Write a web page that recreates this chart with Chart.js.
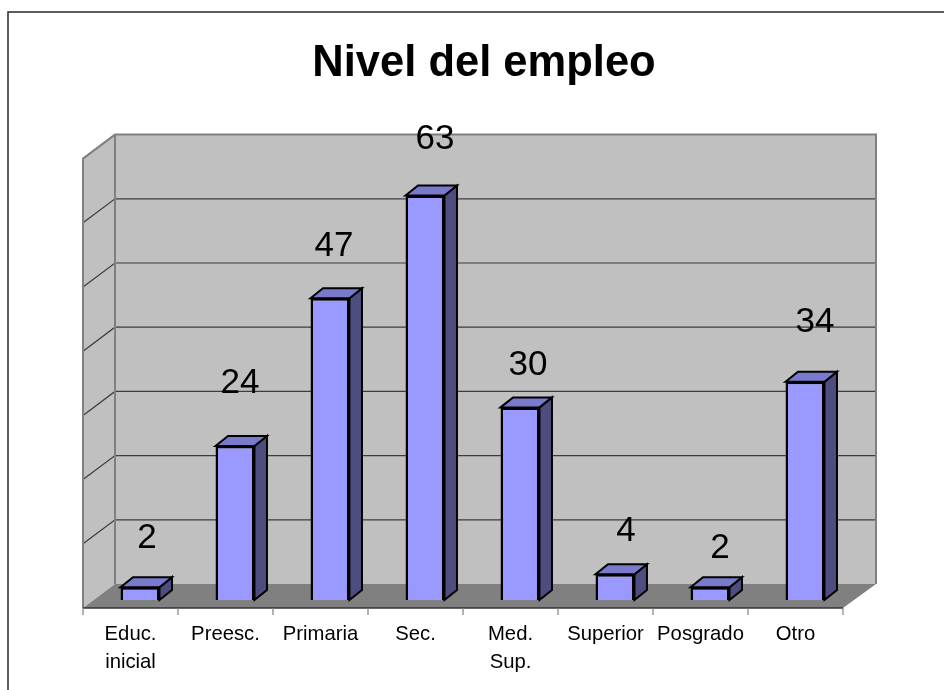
<!DOCTYPE html>
<html lang="es">
<head>
<meta charset="utf-8">
<title>Nivel del empleo</title>
<script src="https://cdn.jsdelivr.net/npm/chart.js@4/dist/chart.umd.js"></script>
<style>html,body{margin:0;padding:0;background:#fff;overflow:hidden}canvas{display:block}</style>
</head>
<body>
<canvas id="c" width="944" height="690"></canvas>
<script>
const categories = [["Educ.","inicial"],"Preesc.","Primaria","Sec.",["Med.","Sup."],"Superior","Posgrado","Otro"];
const values = [2,24,47,63,30,4,2,34];
const chartTitle = "Nivel del empleo";
const labelShiftX = [7,5,4,10,8,11,10,10];
const labelShiftY = [-49,-63,-52,-56,-42,-43,-39,-59];
const FONT = '"Liberation Sans", Arial, sans-serif';
const depth = {barX:12.5, barY:-10, backX:22.5, backY:-16, frontX:-9.5, frontY:8};

function poly(ctx, pts, fill, stroke, lw){
  ctx.beginPath();
  pts.forEach((p,i)=> i ? ctx.lineTo(p[0],p[1]) : ctx.moveTo(p[0],p[1]));
  ctx.closePath();
  if(fill){ctx.fillStyle=fill;ctx.fill();}
  if(stroke){ctx.strokeStyle=stroke;ctx.lineWidth=lw;ctx.lineJoin='miter';ctx.stroke();}
}

const frame3d = {
  id:'frame3d',
  beforeDraw(chart){
    const ctx=chart.ctx;
    ctx.save();
    ctx.strokeStyle='#2a2a2a';ctx.lineWidth=1.5;
    ctx.beginPath();ctx.moveTo(8,690);ctx.lineTo(8,12);ctx.lineTo(944,12);ctx.stroke();
    ctx.restore();
  },
  beforeDatasetsDraw(chart){
    const ctx=chart.ctx, {left,right,top,bottom}=chart.chartArea, yS=chart.scales.y;
    const fl=left+depth.frontX, fr=right+depth.frontX-0, bl=left+depth.backX, br=right+depth.backX+1;
    const ft=top+depth.frontY, fb=bottom+depth.frontY, bt=top+depth.backY, bb=bottom+depth.backY;
    ctx.save();
    poly(ctx,[[bl,bt],[br,bt],[br,bb],[bl,bb]],'#C0C0C0');
    poly(ctx,[[fl,ft],[bl,bt],[bl,bb],[fl,fb]],'#C0C0C0');
    // gridlines on both walls
    ctx.strokeStyle='#3c3c3c';ctx.lineWidth=1.2;
    yS.ticks.forEach(t=>{
      if(t.value===0||t.value===yS.max) return;
      const p=yS.getPixelForValue(t.value);
      ctx.beginPath();
      ctx.moveTo(fl,p+depth.frontY);ctx.lineTo(bl,p+depth.backY);ctx.lineTo(br,p+depth.backY);
      ctx.stroke();
    });
    // walls outline
    ctx.strokeStyle='#808080';ctx.lineWidth=2;
    ctx.beginPath();
    ctx.moveTo(fl,fb);ctx.lineTo(fl,ft);ctx.lineTo(bl,bt);ctx.lineTo(br,bt);ctx.lineTo(br,bb);
    ctx.moveTo(bl,bt);ctx.lineTo(bl,bb);
    ctx.stroke();
    // floor
    poly(ctx,[[fl,fb],[fr,fb],[br,bb],[bl,bb]],'#808080');
    ctx.strokeStyle='#333';ctx.lineWidth=1.5;
    ctx.beginPath();ctx.moveTo(fl,fb);ctx.lineTo(fr,fb);ctx.stroke();
    // tick marks on the front edge
    ctx.strokeStyle='#808080';ctx.lineWidth=1.2;
    const step=(right-left)/categories.length;
    for(let i=0;i<=categories.length;i++){
      const x=left+step*i+depth.frontX;
      ctx.beginPath();ctx.moveTo(x,fb);ctx.lineTo(x,fb+7);ctx.stroke();
    }
    ctx.restore();
  },
  afterDatasetsDraw(chart){
    const ctx=chart.ctx, meta=chart.getDatasetMeta(0);
    ctx.save();
    meta.data.forEach((bar,i)=>{
      const l=bar.x-bar.width/2, r=bar.x+bar.width/2, t=bar.y, b=bar.base;
      const dx=depth.barX, dy=depth.barY;
      poly(ctx,[[r,t],[r+dx,t+dy],[r+dx,b+dy],[r,b]],'#4D4D80','#000',2);
      poly(ctx,[[l,t],[l+dx,t+dy],[r+dx,t+dy],[r,t]],'#7A7ACC','#000',2);
    });
    // value labels
    ctx.fillStyle='#000';ctx.font='35px '+FONT;ctx.textAlign='center';ctx.textBaseline='middle';
    meta.data.forEach((bar,i)=>{
      ctx.fillText(String(values[i]),bar.x+labelShiftX[i],bar.y+labelShiftY[i]);
    });
    ctx.restore();
  }
};

new Chart(document.getElementById('c'),{
  type:'bar',
  plugins:[frame3d],
  data:{labels:categories,datasets:[{
    data:values,
    backgroundColor:'#9999FF',
    borderColor:'#000',
    borderWidth:2.5,
    categoryPercentage:1,
    barPercentage:0.41
  }]},
  options:{
    responsive:false,
    animation:false,
    layout:{padding:{left:24,right:0,top:0,bottom:0}},
    plugins:{
      legend:{display:false},
      tooltip:{enabled:false},
      title:{display:true,text:chartTitle,color:'#000',align:'center',
        font:{family:FONT,size:43.5,weight:'bold',lineHeight:1.2},
        padding:{top:38,bottom:60.4}}
    },
    scales:{
      x:{
        grid:{display:false,drawTicks:false},border:{display:false},
        ticks:{color:'#000',font:{family:FONT,size:20.3,lineHeight:1.38},padding:20,
          labelOffset:depth.frontX,maxRotation:0,minRotation:0,autoSkip:false},
        afterFit(s){s.height=90;}
      },
      y:{
        min:0,max:70,
        grid:{display:false},border:{display:false},
        ticks:{display:false,stepSize:10},
        afterFit(s){s.width=68.5;}
      },
      y2:{
        position:'right',min:0,max:70,
        grid:{display:false},border:{display:false},
        ticks:{display:false},
        afterFit(s){s.width=91.5;}
      }
    }
  }
});
</script>
</body>
</html>
